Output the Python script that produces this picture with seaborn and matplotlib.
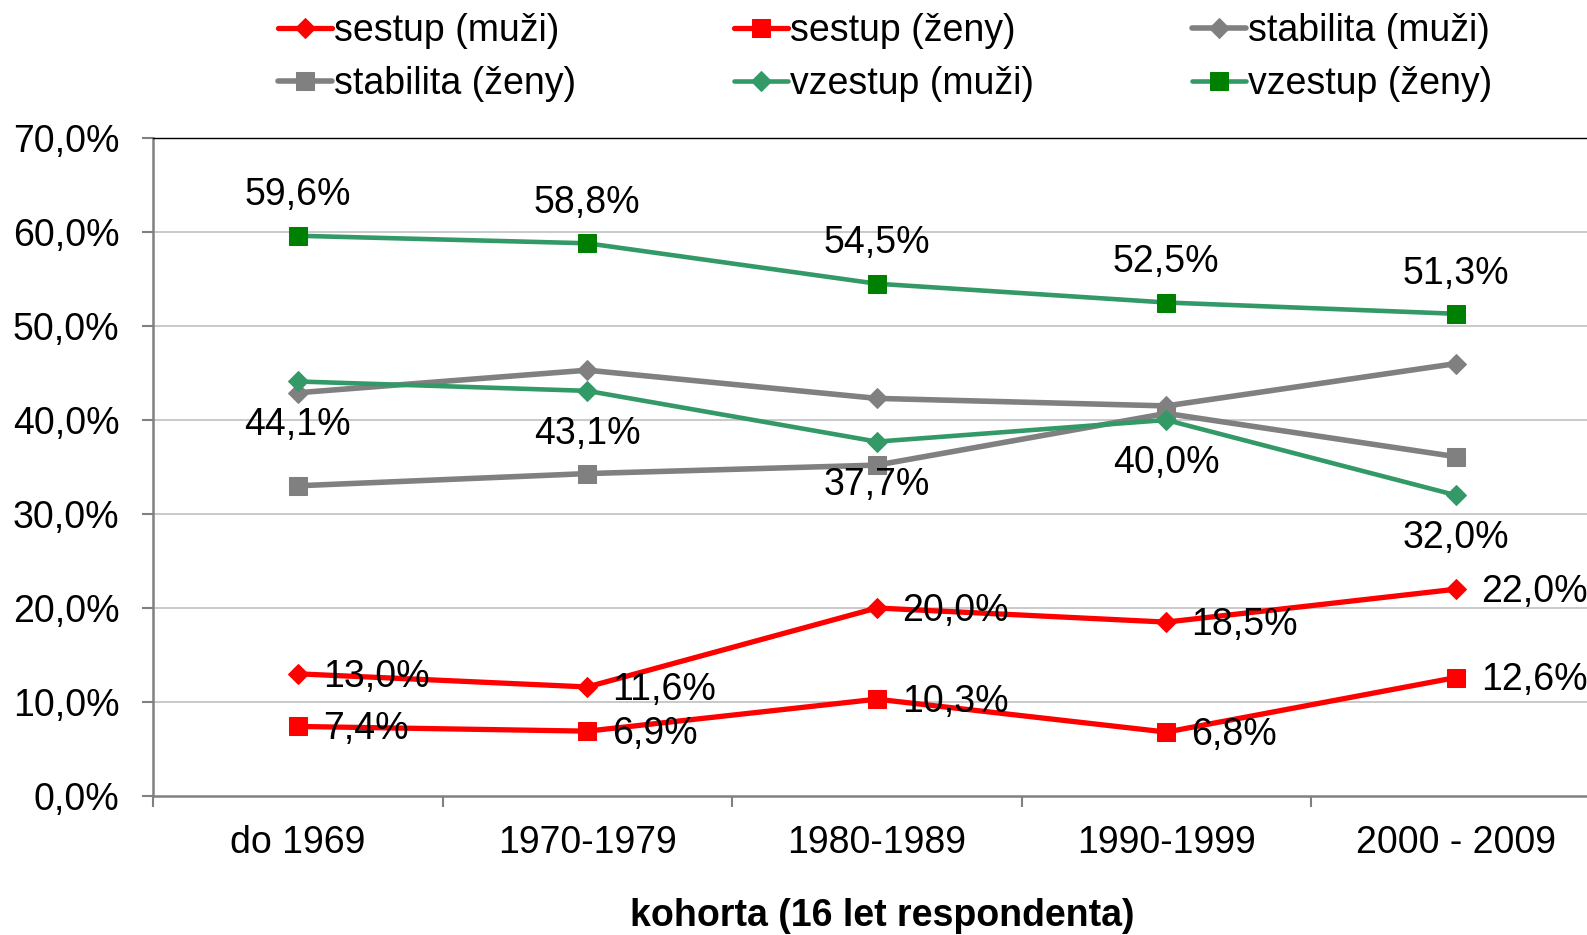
import numpy as np
import pandas as pd
import matplotlib
matplotlib.use("Agg")
import matplotlib.pyplot as plt
import seaborn as sns

kohorty = ["do 1969", "1970-1979", "1980-1989", "1990-1999", "2000 - 2009"]

sestup_muzi = [13.0, 11.6, 20.0, 18.5, 22.0]
sestup_zeny = [7.4, 6.9, 10.3, 6.8, 12.6]
stabilita_muzi = [42.9, 45.3, 42.3, 41.5, 46.0]
stabilita_zeny = [33.0, 34.3, 35.2, 40.7, 36.1]
vzestup_muzi = [44.1, 43.1, 37.7, 40.0, 32.0]
vzestup_zeny = [59.6, 58.8, 54.5, 52.5, 51.3]

y_ticks = [0, 10, 20, 30, 40, 50, 60, 70]

sns.set_style("white")
plt.rcParams["font.family"] = ["Liberation Sans", "DejaVu Sans"]
plt.rcParams["text.color"] = "black"
plt.rcParams["xtick.color"] = "black"
plt.rcParams["ytick.color"] = "black"

FS = 27
RED = "#FF0000"
GRAY = "#808080"
GREEN_LINE = "#339966"
GREEN_MARK = "#008000"

# (label, values, line colour, marker, marker colour, marker size, lw, label mode)
series = [
    ("sestup (muži)", sestup_muzi, RED, "D", RED, 10, 3.8, "right"),
    ("sestup (ženy)", sestup_zeny, RED, "s", RED, 13, 3.8, "right"),
    ("stabilita (muži)", stabilita_muzi, GRAY, "D", GRAY, 10, 4.0, None),
    ("stabilita (ženy)", stabilita_zeny, GRAY, "s", GRAY, 13, 4.0, None),
    ("vzestup (muži)", vzestup_muzi, GREEN_LINE, "D", GREEN_LINE, 10, 3.3, "below"),
    ("vzestup (ženy)", vzestup_zeny, GREEN_LINE, "s", GREEN_MARK, 13, 3.3, "above"),
]

fig = plt.figure(figsize=(15.87, 9.35), dpi=100)
ax = fig.add_axes([153 / 1587, 139 / 935, 1 - 153 / 1587, 658 / 935])

x = np.arange(len(kohorty))
handles = {}
for name, vals, col, mk, mcol, ms, lw, mode in series:
    df = pd.DataFrame({"x": x, "y": vals})
    sns.lineplot(data=df, x="x", y="y", ax=ax, color=col, linewidth=lw,
                 marker=mk, markersize=ms, markerfacecolor=mcol,
                 markeredgecolor=mcol, label=name, zorder=3)
    handles[name] = ax.get_lines()[-1]
    for xi, v in zip(x, vals):
        txt = f"{v:.1f}%".replace(".", ",")
        if mode == "right":
            ax.annotate(txt, (xi, v), xytext=(18, -2), textcoords="offset points",
                        ha="left", va="center", fontsize=FS, zorder=4)
        elif mode == "above":
            ax.annotate(txt, (xi, v), xytext=(0, 29), textcoords="offset points",
                        ha="center", va="center", fontsize=FS, zorder=4)
        elif mode == "below":
            ax.annotate(txt, (xi, v), xytext=(0, -31), textcoords="offset points",
                        ha="center", va="center", fontsize=FS, zorder=4)

ax.legend_.remove()

ax.set_yticks(y_ticks)
ax.set_yticklabels([f"{t:.1f}%".replace(".", ",") for t in y_ticks], fontsize=FS)
for t in y_ticks[1:-1]:
    ax.axhline(t, color="#C0C0C0", linewidth=1.2, zorder=1)

ax.set_xticks(np.arange(len(kohorty) + 1) - 0.5)
ax.set_xticklabels([])
ax.set_xticks(x, minor=True)
ax.set_xticklabels(kohorty, minor=True, fontsize=FS)
# limits after the ticks, otherwise set_xticks widens the view
ax.set_ylim(0, 70)
ax.set_xlim(-0.5, len(kohorty) - 0.5 - 0.047)
ax.tick_params(axis="x", which="major", direction="out", length=8, width=1.5,
               color=GRAY, bottom=True)
ax.tick_params(axis="x", which="minor", length=0, pad=21)
ax.tick_params(axis="y", direction="out", length=8, width=1.5, color=GRAY,
               left=True, pad=16)
ax.set_xlabel("")
ax.set_ylabel("")

for s in ["left", "bottom"]:
    ax.spines[s].set_color(GRAY)
    ax.spines[s].set_linewidth(1.8)
ax.spines["top"].set_color("black")
ax.spines["top"].set_linewidth(1.0)
ax.spines["right"].set_visible(False)

fig.text(0.556, 0.02, "kohorta (16 let respondenta)", fontsize=FS,
         fontweight="bold", ha="center", va="center")

order = ["sestup (muži)", "stabilita (ženy)", "sestup (ženy)", "vzestup (muži)",
         "stabilita (muži)", "vzestup (ženy)"]
fig.legend([handles[n] for n in order], order, ncol=3, loc="upper left",
           bbox_to_anchor=(278 / 1587, 1 - 13 / 935), frameon=False, fontsize=FS,
           handlelength=1.45, handletextpad=0.05, columnspacing=4.2,
           labelspacing=0.45, borderpad=0.0, borderaxespad=0.0)

fig.savefig("out.png", dpi=100)
